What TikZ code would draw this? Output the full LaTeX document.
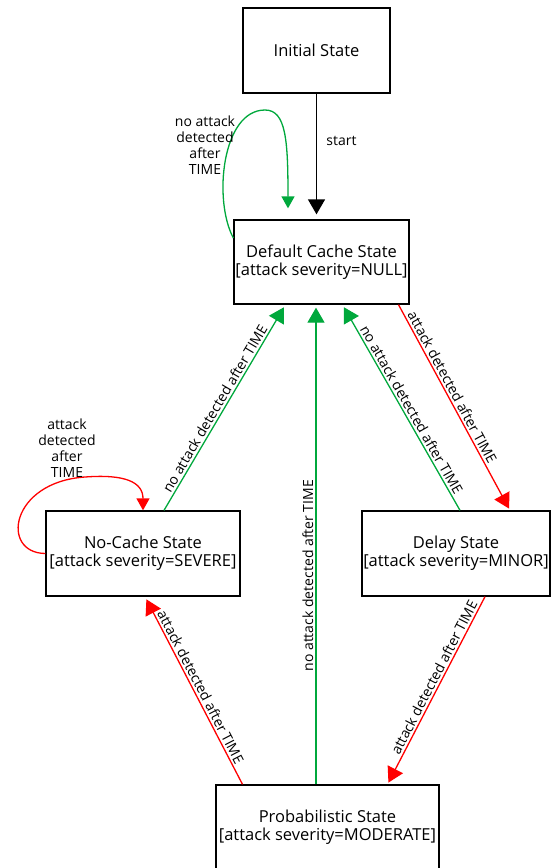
\documentclass[tikz,border=0pt]{standalone}
\usepackage{fontspec}
\setmainfont{Open Sans}
\usetikzlibrary{arrows.meta}
\definecolor{okgreen}{RGB}{0,168,60}
\definecolor{alarmred}{RGB}{255,0,0}
\tikzstyle{state} = [rectangle, draw=black, line width=1.3pt, align=center, inner sep=0pt, font=\fontsize{16.5}{18}\selectfont]
\tikzstyle{arrow} = [line width=1.3pt, -{Triangle[length=15pt,width=17pt]}]
\tikzstyle{calm} = [arrow, color=okgreen]
\tikzstyle{alarm} = [arrow, color=alarmred]
\tikzstyle{smallhead} = [-{Triangle[length=12pt,width=13pt]}]
\tikzstyle{note} = [text=black, font=\fontsize{14}{16}\selectfont]
\tikzstyle{edgenote} = [note, sloped, above, inner sep=2pt]

\begin{document}
\begin{tikzpicture}[x=1pt, y=-1pt]
    \useasboundingbox (0,0) rectangle (552,868);
    % Place nodes
    \node [state, minimum width=147pt, minimum height=85pt] (init) at (316.5,50.5) {Initial State};
    \node [state, minimum width=175pt, minimum height=84pt] (default) at (321.5,262) {Default Cache State\\ {[attack severity=NULL]}};
    \node [state, minimum width=194pt, minimum height=85pt] (nocache) at (143,553.5) {No-Cache State\\ {[attack severity=SEVERE]}};
    \node [state, minimum width=188pt, minimum height=85pt] (delay) at (456,553.5) {Delay State\\ {[attack severity=MINOR]}};
    \node [state, minimum width=223pt, minimum height=84pt] (prob) at (327.5,827) {Probabilistic State\\ {[attack severity=MODERATE]}};

    \draw [arrow, shorten >=5pt] (init.south) -- (init.south |- default.north) node [note, pos=0.38, right, xshift=6pt] (startnote) {start};

    % back to the default state
    \draw [calm, smallhead, shorten >=11pt] ([yshift=24pt]default.west) .. controls (213,200) and (222,110) .. (265,110) .. controls (286,110) and (288,140) .. ([xshift=-33.5pt]default.north);
    \node [note, align=center] (defaultnote) at (205,145) {no attack\\detected\\after\\TIME};
    \draw [calm, shorten >=3pt] ([xshift=21pt]nocache.north) -- ([xshift=-36pt]default.south) node [edgenote, pos=0.475] {no attack detected after TIME};
    \draw [calm, shorten >=3pt] ([xshift=-11.5pt]prob.north) -- ([xshift=-5.5pt]default.south) node [edgenote, pos=0.435] {no attack detected after TIME};
    \draw [calm, shorten >=3pt] ([xshift=4pt]delay.north) -- ([xshift=21pt]default.south) node [edgenote, pos=0.47] {no attack detected after TIME};

    % escalation
    \draw [alarm, shorten >=2pt] ([xshift=77pt]default.south) -- ([xshift=54pt]delay.north) node [edgenote, pos=0.42] {attack detected after TIME};
    \draw [alarm, shorten >=2pt] ([xshift=29pt]delay.south) -- ([xshift=60pt]prob.north) node [edgenote, pos=0.45] {attack detected after TIME};
    \draw [alarm, shorten >=3pt] ([xshift=-85pt]prob.north) -- ([xshift=2pt]nocache.south) node [edgenote, pos=0.5] {attack detected after TIME};
    \draw [alarm, smallhead] (nocache.west) .. controls (0,553) and (10,482) .. (85,477) .. controls (125,474) and (143,482) .. (nocache.north);
    \node [note, align=center] (nocachenote) at (67,448) {attack\\detected\\after\\TIME};
\end{tikzpicture}
\end{document}
